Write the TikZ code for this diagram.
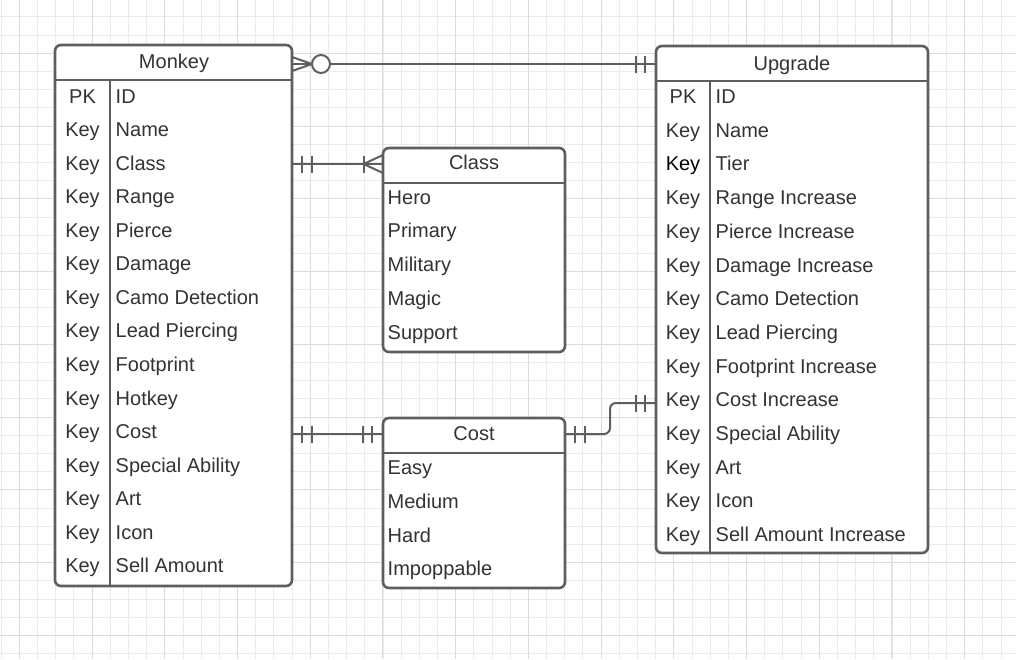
\documentclass[tikz,border=0pt]{standalone}
\usepackage{fontspec}
\setmainfont{Liberation Sans}
\usetikzlibrary{calc}
\definecolor{ln}{HTML}{5E5E5E}
\definecolor{tx}{HTML}{333333}
\definecolor{gmin}{HTML}{EBEBEB}
\definecolor{gmaj}{HTML}{DCDCDC}
\tikzset{
  tbl/.style={draw=ln, line width=2.6pt, rounded corners=6pt, fill=white, inner sep=0pt, outer sep=0pt, anchor=north west},
  sep/.style={draw=ln, line width=2pt},
  conn/.style={draw=ln, line width=2pt},
  txt/.style={text=tx, inner sep=0pt, font=\fontsize{20pt}{24pt}\selectfont},
}
\begin{document}
\begin{tikzpicture}[x=1pt,y=-1pt]
\useasboundingbox (0,0) rectangle (1016,659);
% grid
\begin{scope}
\clip (0,0) rectangle (1016,659);
\foreach \k in {-1,...,55} \draw[gmin, line width=1pt] ({19.4+18.18*\k},0) -- ({19.4+18.18*\k},659);
\foreach \k in {1,...,36} \draw[gmin, line width=1pt] (0,{-1.27+18.19*\k}) -- (1016,{-1.27+18.19*\k});
\foreach \k in {0,...,13} \draw[gmaj, line width=1pt] ({19.4+72.71*\k},0) -- ({19.4+72.71*\k},659);
\foreach \k in {0,...,8} \draw[gmaj, line width=1pt] (0,{53.3+72.75*\k}) -- (1016,{53.3+72.75*\k});
\end{scope}

% Monkey table
\node[tbl, minimum width=237pt, minimum height=541pt] (monkey) at (55,45) {};
\draw[sep] (55,80) -- (292,80);
\draw[sep] (110,80) -- (110,586);
\node[txt, anchor=base] (monkeyh) at (174,68) {Monkey};
\node[txt, anchor=base] (mk0) at (82.5,103) {PK};
\foreach \t [count=\i from 0] in {ID,Name,Class,Range,Pierce,Damage,Camo Detection,Lead Piercing,Footprint,Hotkey,Cost,Special Ability,Art,Icon,Sell Amount}{
  \node[txt, anchor=base west] (mr\i) at (115.5,{103+33.57*\i}) {\t};
}
\foreach \i in {1,...,14}{
  \node[txt, anchor=base] (mk\i) at (82.5,{103+33.57*\i}) {Key};
}

% Upgrade table
\node[tbl, minimum width=272pt, minimum height=507pt] (upgrade) at (656,46) {};
\draw[sep] (656,80.5) -- (928,80.5);
\draw[sep] (710,80.5) -- (710,553);
\node[txt, anchor=base] (upgradeh) at (792,70) {Upgrade};
\node[txt, anchor=base] (uk0) at (683,103.5) {PK};
\foreach \t [count=\i from 0] in {ID,Name,Tier,Range Increase,Pierce Increase,Damage Increase,Camo Detection,Lead Piercing,Footprint Increase,Cost Increase,Special Ability,Art,Icon,Sell Amount Increase}{
  \node[txt, anchor=base west] (ur\i) at (715.5,{103.5+33.7*\i}) {\t};
}
\foreach \i in {1,3,4,...,13}{
  \node[txt, anchor=base] (uk\i) at (683,{103.5+33.7*\i}) {Key};
}
\node[txt, text=black, anchor=base] (uk2) at (683,{103.5+33.7*2}) {Key};

% Class table
\node[tbl, minimum width=182pt, minimum height=204pt] (class) at (383,148) {};
\draw[sep] (383,183) -- (565,183);
\node[txt, anchor=base] (classh) at (474,169) {Class};
\foreach \t [count=\i from 0] in {Hero,Primary,Military,Magic,Support}{
  \node[txt, anchor=base west] (cr\i) at (387.5,{204+33.75*\i}) {\t};
}

% Cost table
\node[tbl, minimum width=182pt, minimum height=170pt] (cost) at (383,418) {};
\draw[sep] (383,453) -- (565,453);
\node[txt, anchor=base] (costh) at (474,440) {Cost};
\foreach \t [count=\i from 0] in {Easy,Medium,Hard,Impoppable}{
  \node[txt, anchor=base west] (sr\i) at (387.5,{474.5+33.75*\i}) {\t};
}

% Connector Monkey -- Upgrade (zero or many : one and only one)
\coordinate (a1) at ([yshift=-19pt]monkey.north east);
\coordinate (a2) at ([yshift=-18pt]upgrade.north west);
\draw[conn] (a1) -- (a2);
\draw[conn] ([yshift=7pt]a1) -- ([xshift=20pt]a1) -- ([yshift=-7pt]a1);
\draw[conn, fill=white] ([xshift=29pt]a1) circle[radius=9pt];
\draw[conn] ([xshift=-20pt,yshift=8.5pt]a2) -- ([xshift=-20pt,yshift=-8.5pt]a2);
\draw[conn] ([xshift=-11.5pt,yshift=8.5pt]a2) -- ([xshift=-11.5pt,yshift=-8.5pt]a2);

% Connector Monkey -- Class (one : many)
\coordinate (b1) at ([yshift=-119pt]monkey.north east);
\coordinate (b2) at ([yshift=-16pt]class.north west);
\draw[conn] (b1) -- (b2);
\draw[conn] ([xshift=10pt,yshift=8.5pt]b1) -- ([xshift=10pt,yshift=-8.5pt]b1);
\draw[conn] ([xshift=19.5pt,yshift=8.5pt]b1) -- ([xshift=19.5pt,yshift=-8.5pt]b1);
\draw[conn] ([xshift=-19.5pt,yshift=8.5pt]b2) -- ([xshift=-19.5pt,yshift=-8.5pt]b2);
\draw[conn] ([yshift=9pt]b2) -- ([xshift=-19.5pt]b2) -- ([yshift=-9pt]b2);

% Connector Monkey -- Cost (one : one)
\coordinate (c1) at ([yshift=-389pt]monkey.north east);
\coordinate (c2) at ([yshift=-16pt]cost.north west);
\draw[conn] (c1) -- (c2);
\draw[conn] ([xshift=10pt,yshift=8.5pt]c1) -- ([xshift=10pt,yshift=-8.5pt]c1);
\draw[conn] ([xshift=19.5pt,yshift=8.5pt]c1) -- ([xshift=19.5pt,yshift=-8.5pt]c1);
\draw[conn] ([xshift=-20pt,yshift=8.5pt]c2) -- ([xshift=-20pt,yshift=-8.5pt]c2);
\draw[conn] ([xshift=-11pt,yshift=8.5pt]c2) -- ([xshift=-11pt,yshift=-8.5pt]c2);

% Connector Cost -- Upgrade (one : one)
\coordinate (d1) at ([yshift=-16pt]cost.north east);
\coordinate (d2) at ([yshift=-357pt]upgrade.north west);
\draw[conn, rounded corners=6pt] (d1) -- ($(d1)+(45,0)$) |- (d2);
\draw[conn] ([xshift=10pt,yshift=8.5pt]d1) -- ([xshift=10pt,yshift=-8.5pt]d1);
\draw[conn] ([xshift=19.5pt,yshift=8.5pt]d1) -- ([xshift=19.5pt,yshift=-8.5pt]d1);
\draw[conn] ([xshift=-20pt,yshift=8.5pt]d2) -- ([xshift=-20pt,yshift=-8.5pt]d2);
\draw[conn] ([xshift=-11.5pt,yshift=8.5pt]d2) -- ([xshift=-11.5pt,yshift=-8.5pt]d2);
\end{tikzpicture}
\end{document}
